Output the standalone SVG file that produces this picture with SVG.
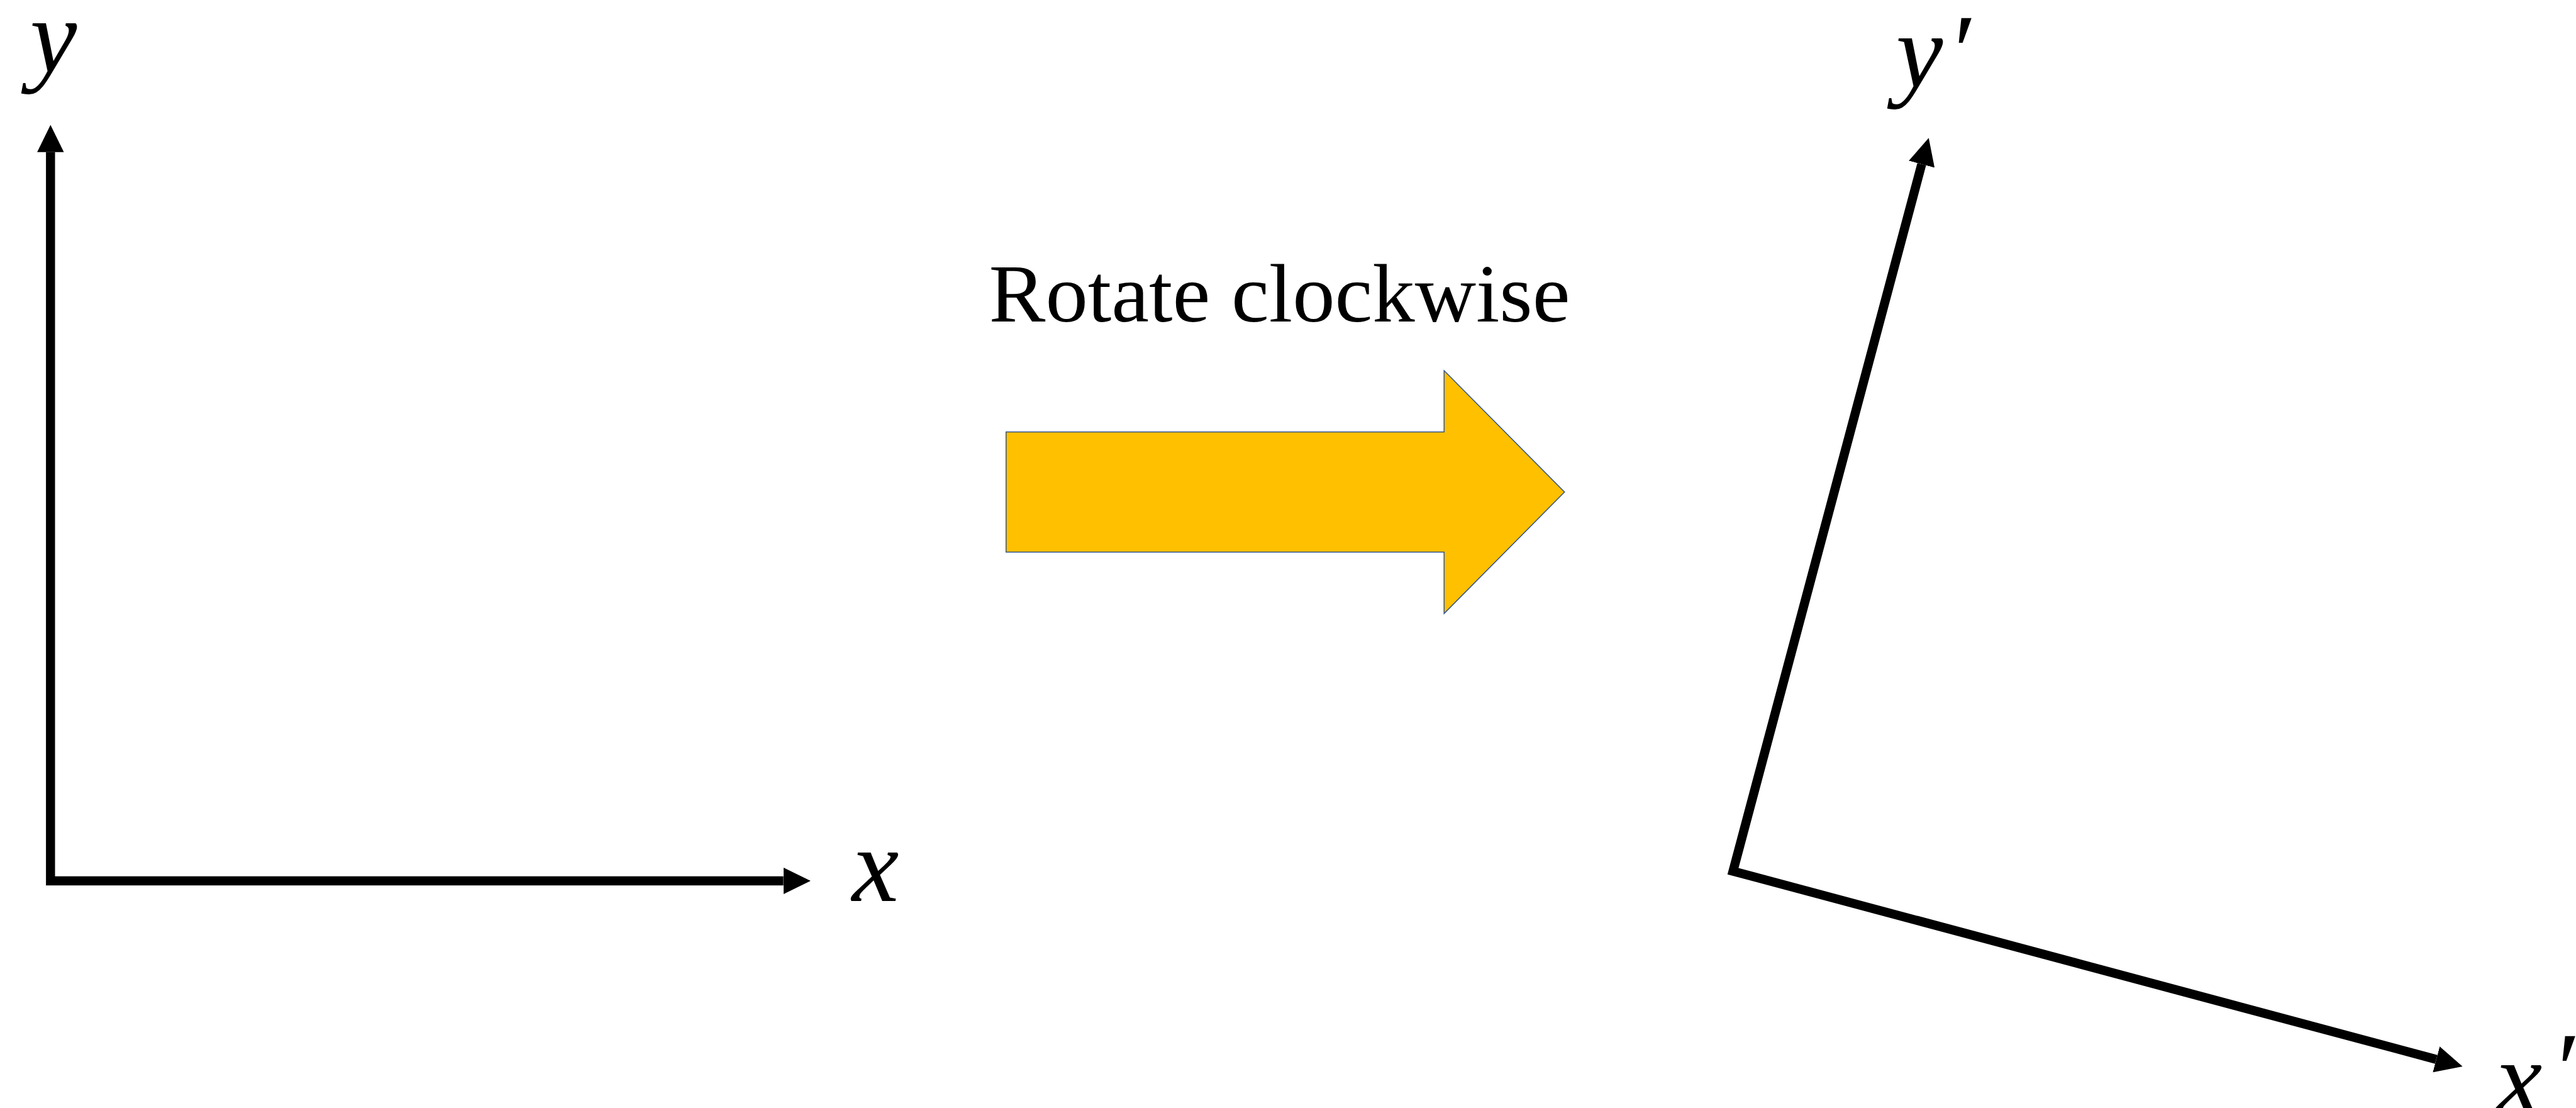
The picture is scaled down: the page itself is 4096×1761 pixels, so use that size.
<svg xmlns="http://www.w3.org/2000/svg" width="4096" height="1761" viewBox="0 0 4096 1761">
  <style>
    .axis { fill: none; stroke: #000; stroke-width: 14.4; stroke-linejoin: miter; stroke-miterlimit: 10; marker-start: url(#head); marker-end: url(#head); }
    .math { font-family: "Liberation Serif", "DejaVu Serif", serif; font-style: italic; font-size: 168px; fill: #000; }
    .caption { font-family: "Liberation Serif", "DejaVu Serif", serif; font-size: 131px; fill: #000; }
    .bigarrow { fill: #FFC000; stroke: #2F528F; stroke-width: 1.5; stroke-linejoin: miter; }
  </style>
  <defs>
    <marker id="head" markerUnits="userSpaceOnUse" viewBox="0 0 43.3 42.4" markerWidth="43.3" markerHeight="42.4" refX="0" refY="21.2" orient="auto-start-reverse">
      <path d="M0,0 L43.3,21.2 L0,42.4 Z" fill="#000"/>
    </marker>
  </defs>
  <rect width="4096" height="1761" fill="#fff"/>

  <!-- connectors: original and rotated axes -->
  <g id="connectors">
    <polyline id="axes-xy" class="axis" points="80.3,241.7 80.3,1400 1245.6,1400"/>
    <polyline id="axes-rotated" class="axis" points="3055.6,261.0 2755.6,1384.6 3873.8,1683.7"/>
  </g>

  <!-- axis labels -->
  <g id="label-y">
    <text class="math" x="85" y="114" text-anchor="middle">y</text>
  </g>
  <g id="label-x">
    <text class="math" x="1392" y="1431.5" text-anchor="middle">x</text>
  </g>
  <g id="label-y-prime">
    <text class="math" x="3052" y="138" text-anchor="middle">y</text>
    <text class="math" x="3096" y="138">′</text>
  </g>
  <g id="label-x-prime">
    <text class="math" x="4005" y="1769.7" text-anchor="middle">x</text>
    <text class="math" x="4056" y="1756">′</text>
  </g>

  <!-- rotation caption and block arrow -->
  <g id="caption">
    <text class="caption" x="1572.6" y="510.5" textLength="924" lengthAdjust="spacingAndGlyphs">Rotate clockwise</text>
  </g>
  <g id="rotate-arrow">
    <polygon class="bigarrow" points="1599.7,686.4 2296.2,686.4 2296.2,589.0 2487.7,782.0 2296.2,975.1 2296.2,877.6 1599.7,877.6"/>
  </g>
</svg>
